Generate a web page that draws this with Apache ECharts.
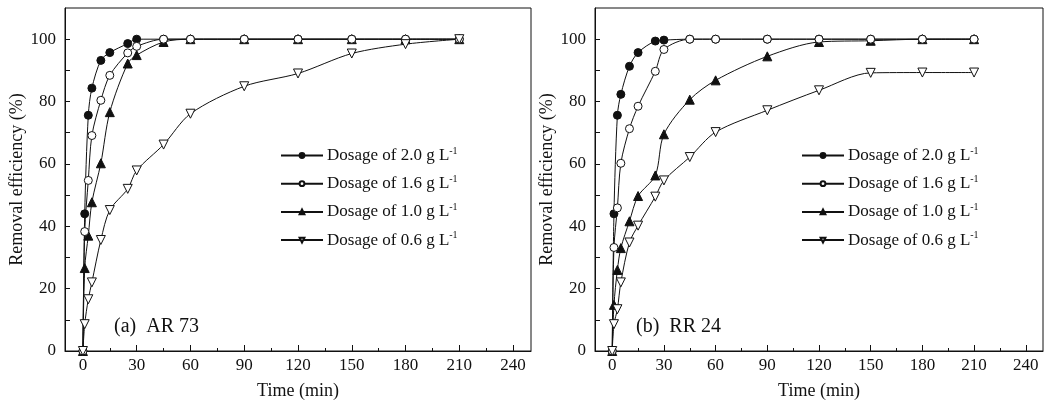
<!DOCTYPE html>
<html>
<head>
<meta charset="utf-8">
<script src="https://cdn.jsdelivr.net/npm/echarts@6/dist/echarts.min.js"></script>
<style>
  html, body { margin: 0; padding: 0; background: #fff; }
  #chart { width: 1046px; height: 406px; }
</style>
</head>
<body>
<div id="chart"></div>
<script>
// 数据
var doseNames = ['2.0', '1.6', '1.0', '0.6']
var times = [0, 1, 3, 5, 10, 15, 25, 30, 45, 60, 90, 120, 150, 180, 210]

// (a) AR 73
var ar20 = [0, 44, 75.6, 84.3, 93.2, 95.7, 98.6, 100, 100, 100, 100, 100, 100, 100, 100]
var ar16 = [0, 38.3, 54.7, 69.1, 80.4, 88.4, 95.6, 97.7, 100, 100, 100, 100, 100, 100, 100]
var ar10 = [0, 26.6, 37, 47.7, 60.2, 76.6, 92.2, 94.9, 99.1, 100, 100, 100, 100, 100, 100]
var ar06 = [0, 8.6, 16.6, 22, 35.6, 45.2, 52, 57.9, 66.2, 76.1, 84.9, 89, 95.4, 98.4, 100]

// (b) RR 24
var rr20 = [0, 44, 75.6, 82.3, 91.3, 95.7, 99.4, 99.7, 100, 100, 100, 100, 100, 100, 100]
var rr16 = [0, 33.2, 45.9, 60.2, 71.3, 78.5, 89.7, 96.7, 100, 100, 100, 100, 100, 100, 100]
var rr10 = [0, 14.8, 26, 33, 41.6, 49.7, 56.3, 69.5, 80.6, 86.8, 94.5, 99.1, 99.5, 100, 100]
var rr06 = [0, 8.6, 13.4, 22, 34.8, 40.2, 49.5, 54.7, 62.2, 70.2, 77.2, 83.6, 89.2, 89.3, 89.3]

// 刻度
var xLabelTicks = [0, 30, 60, 90, 120, 150, 180, 210, 240]
var xMinorTicks = [15, 45, 75, 105, 135, 165, 195, 225]
var yLabelTicks = [0, 20, 40, 60, 80, 100]
var yAllTicks = [0, 10, 20, 30, 40, 50, 60, 70, 80, 90, 100]

var font = "'Liberation Serif', 'Times New Roman', serif"
var ink = '#111'

var symbols = {
  '2.0': { symbol: 'circle', fill: ink, rotate: 0 },
  '1.6': { symbol: 'circle', fill: '#fff', rotate: 0 },
  '1.0': { symbol: 'triangle', fill: ink, rotate: 0 },
  '0.6': { symbol: 'triangle', fill: '#fff', rotate: 180 }
}

function pairs(vals) {
  return times.map(function (t, i) { return [t, vals[i]] })
}

function makeSeries(name, vals, idx) {
  var s = symbols[name]
  return {
    name: name,
    type: 'line',
    xAxisIndex: idx * 2,
    yAxisIndex: idx,
    data: pairs(vals),
    smooth: 0.3,
    symbol: s.symbol,
    symbolRotate: s.rotate,
    symbolSize: s.symbol === 'circle' ? 8 : 9,
    lineStyle: { color: ink, width: 1 },
    itemStyle: { color: s.fill, borderColor: ink, borderWidth: 1 },
    z: s.fill === ink ? 3 : 4
  }
}

function xMain(gi) {
  return {
    type: 'value', gridIndex: gi, min: -10, max: 250,
    name: 'Time (min)', nameLocation: 'middle', nameGap: 31,
    nameTextStyle: { fontFamily: font, fontSize: 18, color: ink },
    axisLine: { onZero: false, lineStyle: { color: ink, width: 1 } },
    axisTick: { inside: true, length: 6, customValues: xLabelTicks, lineStyle: { color: ink } },
    axisLabel: { customValues: xLabelTicks, fontFamily: font, fontSize: 17, color: ink, margin: 6 },
    splitLine: { show: false }
  }
}
function xMinor(gi) {
  return {
    type: 'value', gridIndex: gi, min: -10, max: 250, position: 'bottom',
    axisLine: { show: false, onZero: false },
    axisTick: { inside: true, length: 3, customValues: xMinorTicks, lineStyle: { color: ink } },
    axisLabel: { show: false },
    splitLine: { show: false }
  }
}
function yMain(gi) {
  return {
    type: 'value', gridIndex: gi, min: 0, max: 110,
    name: 'Removal efficiency (%)', nameLocation: 'middle', nameGap: 35, nameRotate: 90,
    nameTextStyle: { fontFamily: font, fontSize: 18, color: ink },
    axisLine: { show: true, onZero: false, lineStyle: { color: ink, width: 1 } },
    axisTick: { inside: true, length: 5, customValues: yAllTicks, lineStyle: { color: ink } },
    axisLabel: { customValues: yLabelTicks, fontFamily: font, fontSize: 17, color: ink, margin: 9 },
    splitLine: { show: false }
  }
}
function legendAt(left) {
  return {
    orient: 'vertical', left: left, top: 146, padding: 0,
    itemWidth: 42, itemHeight: 6, itemGap: 9.7,
    data: doseNames,
    formatter: function (n) { return 'Dosage of ' + n + ' g L{sup|-1}' },
    textStyle: {
      fontFamily: font, fontSize: 17, color: ink, lineHeight: 18, padding: [0, 0, 0, -1],
      rich: { sup: { fontFamily: font, fontSize: 10, color: ink, padding: [0, 0, 9, 0] } }
    }
  }
}

var chart = echarts.init(document.getElementById('chart'))
var option = {
  animation: false,
  backgroundColor: '#fff',
  title: [
    { text: '(a)  AR 73', left: 109, top: 312, textStyle: { fontFamily: font, fontSize: 20, fontWeight: 'normal', color: ink } },
    { text: '(b)  RR 24', left: 631, top: 312, textStyle: { fontFamily: font, fontSize: 20, fontWeight: 'normal', color: ink } }
  ],
  legend: [legendAt(280), legendAt(801)],
  grid: [
    { left: 65, top: 8, width: 466, height: 343, show: true, borderColor: ink, borderWidth: 1, backgroundColor: 'transparent' },
    { left: 595, top: 8, width: 448, height: 343, show: true, borderColor: ink, borderWidth: 1, backgroundColor: 'transparent' }
  ],
  xAxis: [xMain(0), xMinor(0), xMain(1), xMinor(1)],
  yAxis: [yMain(0), yMain(1)],
  series: [
    makeSeries('2.0', ar20, 0), makeSeries('1.6', ar16, 0), makeSeries('1.0', ar10, 0), makeSeries('0.6', ar06, 0),
    makeSeries('2.0', rr20, 1), makeSeries('1.6', rr16, 1), makeSeries('1.0', rr10, 1), makeSeries('0.6', rr06, 1)
  ]
}
chart.setOption(option)
</script>
</body>
</html>
